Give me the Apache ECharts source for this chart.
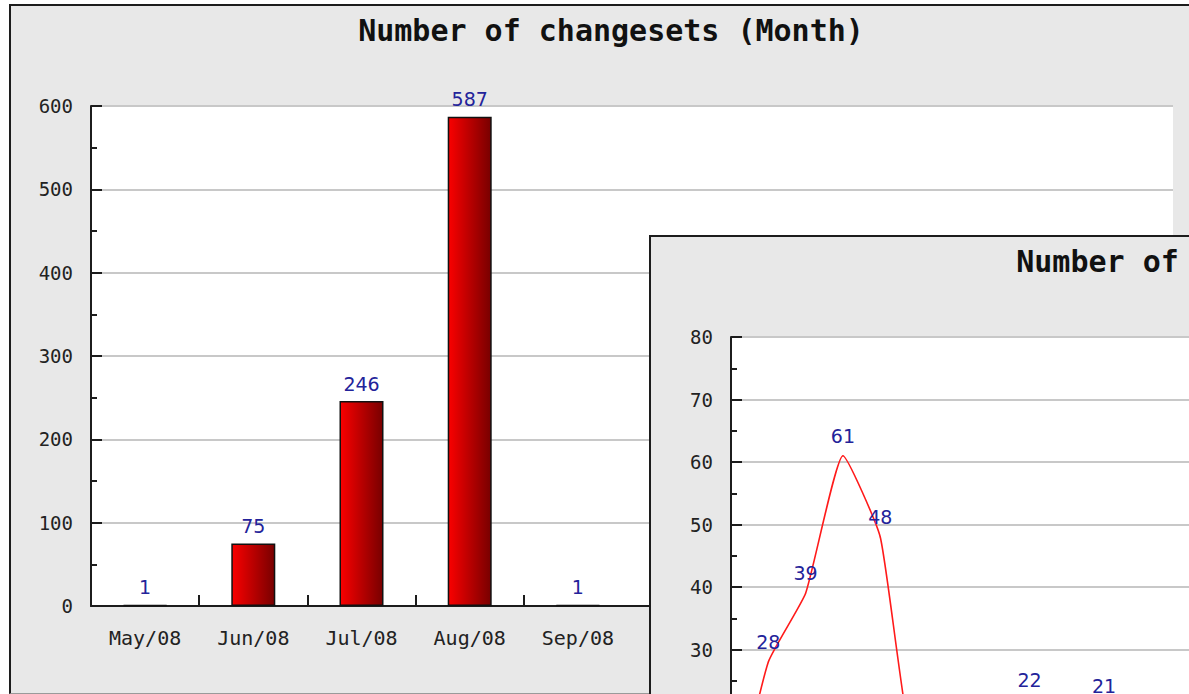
<!DOCTYPE html>
<html>
<head>
<meta charset="utf-8">
<script src="https://cdn.jsdelivr.net/npm/echarts@6/dist/echarts.min.js"></script>
<style>
  html, body { margin: 0; padding: 0; width: 1189px; height: 694px; overflow: hidden; background: #ffffff; }
  .panel { position: absolute; background: #e8e8e8; border-left: 2px solid #1c1c1c; border-top: 2px solid #1c1c1c; border-bottom: 1px solid #9a9a9a; }
  .chart { width: 1200px; height: 687px; }
  #p1 { left: 9px; top: 4px; z-index: 1; }
  #p2 { left: 649px; top: 235px; z-index: 2; }
</style>
</head>
<body>
<div class="panel" id="p1"><div class="chart" id="c1"></div></div>
<div class="panel" id="p2"><div class="chart" id="c2"></div></div>
<script>
// ---- Data: monthly chart ----
const monthTitle = 'Number of changesets (Month)';
const months = ['May/08', 'Jun/08', 'Jul/08', 'Aug/08', 'Sep/08', 'Oct/08', 'Nov/08', 'Dec/08', 'Jan/09', 'Feb/09'];
const monthValues = [1, 75, 246, 587, 1, 120, 180, 95, 60, 70];
const monthTicks = [0, 100, 200, 300, 400, 500, 600];

// ---- Data: daily chart ----
const dayTitle = 'Number of changesets (Day)';
const days = ['01', '02', '03', '04', '05', '06', '07', '08', '09', '10',
              '11', '12', '13', '14', '15', '16', '17', '18', '19', '20',
              '21', '22', '23', '24', '25', '26', '27', '28', '29', '30'];
const dayValues = [3, 28, 39, 61, 48, 12, 14, 10, 22, 15, 21, 12, 8, 6, 13,
                   11, 4, 8, 15, 10, 7, 12, 5, 9, 14, 6, 11, 3, 8, 10];
const dayTicks = [0, 10, 20, 30, 40, 50, 60, 70, 80];

const MONO = "'DejaVu Sans Mono', 'Liberation Mono', monospace";
const SANS = "'DejaVu Sans', sans-serif";
const AXIS_COLOR = '#1c1c1c';
const LABEL_BLUE = '#23239a';

function baseOption(title, yTicks) {
  return {
    animation: false,
    backgroundColor: 'transparent',
    title: {
      text: title,
      left: 'center',
      top: 4,
      textStyle: { fontFamily: MONO, fontWeight: 'bold', fontSize: 30, color: '#111' }
    },
    grid: {
      left: 80, top: 100, width: 1082, height: 500,
      show: true, backgroundColor: '#ffffff', borderWidth: 0
    },
    yAxis: {
      type: 'value',
      min: yTicks[0],
      max: yTicks[yTicks.length - 1],
      interval: yTicks[1] - yTicks[0],
      axisLine: { show: true, lineStyle: { color: AXIS_COLOR, width: 2 } },
      axisTick: { show: true, inside: true, length: 11, lineStyle: { color: AXIS_COLOR, width: 2 } },
      minorTick: { show: true, splitNumber: 2, length: 6, lineStyle: { color: AXIS_COLOR, width: 2 } },
      splitLine: { show: true, lineStyle: { color: '#c8c8c8', width: 2 } },
      axisLabel: { margin: 18, fontFamily: MONO, fontSize: 19, color: '#222' }
    }
  };
}

// Panel 1: monthly bars (categories after Sep/08 lie under panel 2)
const opt1 = baseOption(monthTitle, monthTicks);
opt1.xAxis = {
  type: 'category',
  data: months,
  boundaryGap: true,
  axisLine: { show: true, lineStyle: { color: AXIS_COLOR, width: 2 } },
  axisTick: { show: true, inside: true, length: 11, lineStyle: { color: AXIS_COLOR, width: 2 } },
  axisLabel: {
    margin: 22, fontFamily: MONO, fontSize: 20, color: '#222',
    interval: function (idx) { return idx < 5; }
  },
  splitLine: { show: false }
};
opt1.series = [{
  type: 'bar',
  data: monthValues,
  barWidth: 44,
  itemStyle: {
    color: new echarts.graphic.LinearGradient(0, 0, 1, 0, [
      { offset: 0, color: '#fa0000' },
      { offset: 1, color: '#780000' }
    ]),
    borderColor: '#111',
    borderWidth: 1.5
  },
  label: { show: true, position: 'top', distance: 8, color: LABEL_BLUE, fontFamily: SANS, fontSize: 19 }
}];

// Panel 2: daily line (its lower part runs past the window)
const opt2 = baseOption(dayTitle, dayTicks);
opt2.xAxis = {
  type: 'category',
  data: days,
  boundaryGap: false,
  axisLine: { show: true, lineStyle: { color: AXIS_COLOR, width: 2 } },
  axisTick: { show: true, inside: true, length: 11, lineStyle: { color: AXIS_COLOR, width: 2 } },
  axisLabel: { show: false },
  splitLine: { show: false }
};
opt2.series = [{
  type: 'line',
  data: dayValues,
  smooth: 0.15,
  symbol: 'circle',
  symbolSize: 1,
  showSymbol: true,
  itemStyle: { color: '#ff1a1a' },
  lineStyle: { color: '#ff1a1a', width: 1.6 },
  label: { show: true, position: 'top', distance: 10, color: LABEL_BLUE, fontFamily: SANS, fontSize: 19 }
}];

const c1 = echarts.init(document.getElementById('c1'), null, { renderer: 'svg' });
c1.setOption(opt1);
const c2 = echarts.init(document.getElementById('c2'), null, { renderer: 'svg' });
c2.setOption(opt2);
</script>
</body>
</html>
